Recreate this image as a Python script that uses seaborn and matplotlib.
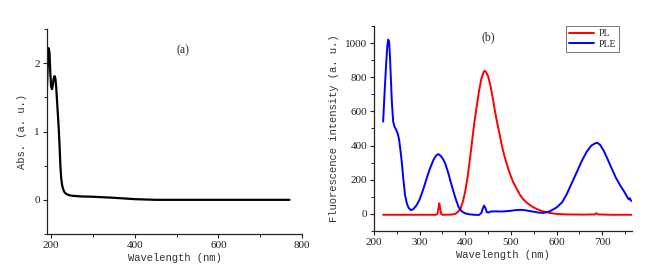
import numpy as np
import pandas as pd
import matplotlib
matplotlib.use("Agg")
import matplotlib.pyplot as plt
import seaborn as sns
from matplotlib.ticker import MultipleLocator

# ---- data (a) absorption ----
abs_wl = [190, 192, 194, 196, 198, 200, 202, 204, 206, 208, 210, 212, 214, 216, 218,
          220, 222, 224, 226, 228, 231, 235, 240, 245, 250, 270, 300, 350, 400, 440, 450, 770]
abs_val = [1.65, 2.0, 2.22, 2.15, 1.85, 1.65, 1.62, 1.68, 1.78, 1.81, 1.78, 1.65, 1.45, 1.25, 1.05,
           0.8, 0.5, 0.32, 0.22, 0.17, 0.12, 0.09, 0.075, 0.065, 0.06, 0.05, 0.045, 0.03, 0.01, 0.002, 0.0, 0.0]

# ---- data (b) PL ----
pl_wl = [220, 300, 335, 339, 341, 343, 345, 347, 350, 370, 378, 385, 390, 395, 400, 405, 410, 415,
         420, 425, 430, 435, 440, 442, 445, 450, 455, 460, 465, 470, 476, 480, 485, 490, 495, 500,
         505, 513, 520, 527, 535, 545, 557, 570, 586, 600, 622, 660, 683, 687, 691, 720, 765]
pl_val = [-5, -5, -5, 0, 30, 62, 30, 0, -5, -4, 0, 15, 35, 75, 135, 215, 320, 430,
          540, 630, 720, 790, 830, 838, 832, 805, 750, 680, 600, 530, 455, 400, 345, 300, 255, 218,
          185, 145, 110, 85, 65, 45, 28, 15, 5, 0, -3, -4, -3, 4, -3, -5, -5]

# ---- data (b) PLE ----
ple_wl = [220, 223, 226, 229, 231, 233, 235, 237, 239, 242, 245, 248, 252, 255, 258, 261, 264, 268,
          272, 276, 281, 286, 293, 300, 308, 315, 322, 330, 336, 341, 346, 351, 356, 362, 370, 378,
          385, 392, 400, 410, 420, 430, 435, 438, 441, 444, 447, 451, 455, 465, 480, 495, 510, 520,
          530, 545, 560, 571, 585, 600, 612, 622, 633, 645, 655, 666, 676, 684, 689, 695, 703, 712,
          721, 730, 740, 748, 755, 758, 760, 762, 765]
ple_val = [540, 700, 850, 980, 1020, 1010, 920, 790, 660, 540, 510, 495, 470, 435, 370, 300, 210, 110,
           60, 35, 22, 28, 50, 85, 145, 205, 262, 315, 342, 350, 340, 322, 295, 245, 168, 95,
           42, 15, 3, -3, -5, -6, 5, 30, 48, 35, 10, 8, 14, 15, 14, 17, 22, 24,
           22, 15, 8, 6, 15, 38, 68, 115, 180, 250, 310, 365, 400, 413, 416, 405, 370, 318,
           263, 210, 163, 130, 97, 85, 92, 80, 75]

sns.set_theme(style="ticks")
plt.rcParams['font.family'] = ['Liberation Serif', 'DejaVu Serif']

fig = plt.figure(figsize=(6.67, 2.75), dpi=100)
ax1 = fig.add_axes([47/667, 1 - 234/275, (302 - 47)/667, (234 - 29)/275])
ax2 = fig.add_axes([374/667, 1 - 231/275, (632 - 374)/667, (231 - 26)/275])

df_a = pd.DataFrame({"wl": abs_wl, "val": abs_val})
sns.lineplot(data=df_a, x="wl", y="val", ax=ax1, color="black", linewidth=1.6, sort=False)

df_pl = pd.DataFrame({"wl": pl_wl, "val": pl_val, "s": "PL"})
df_ple = pd.DataFrame({"wl": ple_wl, "val": ple_val, "s": "PLE"})
df_b = pd.concat([df_pl, df_ple])
sns.lineplot(data=df_b, x="wl", y="val", hue="s", palette={"PL": "#ff0000", "PLE": "#0000ff"},
             ax=ax2, linewidth=1.4, sort=False)

label_font = dict(family=['Liberation Mono', 'DejaVu Sans Mono'], size=7.6, color='#333333')

for ax in (ax1, ax2):
    sns.despine(ax=ax)
    ax.spines['left'].set_color('#222222')
    ax.spines['bottom'].set_color('#222222')
    ax.spines['left'].set_linewidth(0.9)
    ax.spines['bottom'].set_linewidth(0.9)
    ax.tick_params(which='major', direction='out', length=3, width=0.8, labelsize=8,
                   colors='#222222', pad=2)
    ax.tick_params(which='minor', direction='out', length=2, width=0.7, colors='#222222')
    ax.set_xlabel("Wavelength (nm)", **label_font, labelpad=2)

ax1.set_xlim(190, 800)
ax1.set_ylim(-0.5, 2.5)
ax1.xaxis.set_major_locator(MultipleLocator(200))
ax1.xaxis.set_minor_locator(MultipleLocator(100))
ax1.yaxis.set_major_locator(MultipleLocator(1))
ax1.yaxis.set_minor_locator(MultipleLocator(0.5))
ax1.set_ylabel("Abs. (a. u.)", **label_font, labelpad=5)
ax1.text(516, 2.19, "(a)", ha='center', va='center', fontsize=8.5)

ax2.set_xlim(200, 765)
ax2.set_ylim(-100, 1100)
ax2.xaxis.set_major_locator(MultipleLocator(100))
ax2.xaxis.set_minor_locator(MultipleLocator(50))
ax2.yaxis.set_major_locator(MultipleLocator(200))
ax2.yaxis.set_minor_locator(MultipleLocator(100))
ax2.set_ylabel("Fluorescence intensity (a. u.)", **label_font, labelpad=4)
ax2.text(450, 1035, "(b)", ha='center', va='center', fontsize=8.5)

leg = ax2.legend(loc='upper right', bbox_to_anchor=(0.95, 1.0), fontsize=7, frameon=True,
                 fancybox=False, handlelength=2.6, handletextpad=0.5, borderpad=0.3,
                 labelspacing=0.2, borderaxespad=0)
leg.get_frame().set_edgecolor('#555555')
leg.get_frame().set_linewidth(0.7)
leg.set_title(None)

fig.savefig("out.png", dpi=100)
